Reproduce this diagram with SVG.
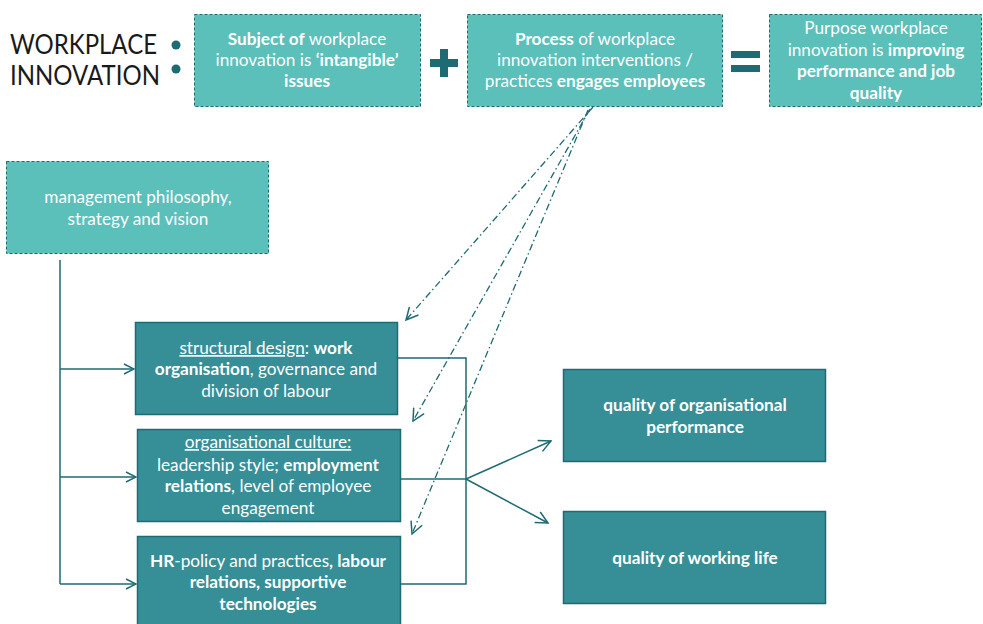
<svg xmlns="http://www.w3.org/2000/svg" width="983" height="624" viewBox="0 0 983 624">
<defs>
<style>
.lt{fill:#5BBFBA;stroke:#1E6B73;stroke-width:1;stroke-dasharray:3 2}
.dk{fill:#368E96;stroke:#1E6B73;stroke-width:1.5}
.t{font-family:Lato,"Liberation Sans",sans-serif;font-size:17.2px;fill:#ffffff;text-anchor:middle}
.b{font-weight:bold}
.c{fill:none;stroke:#1E6B73;stroke-width:1.5}
.dd{fill:none;stroke:#1E6B73;stroke-width:1.3;stroke-dasharray:7 3 1.5 3}
.big{font-family:Lato,"Liberation Sans",sans-serif;font-size:27px;fill:#1a1a1a}
</style>
<marker id="ah" viewBox="0 0 12 12" refX="11" refY="6" markerWidth="12" markerHeight="12" markerUnits="userSpaceOnUse" orient="auto">
<path d="M1,1 L11,6 L1,11" fill="none" stroke="#1E6B73" stroke-width="1.5"/>
</marker>
<marker id="ah2" viewBox="0 0 14 14" refX="13" refY="7" markerWidth="14" markerHeight="14" markerUnits="userSpaceOnUse" orient="auto">
<path d="M1,1 L13,7 L1,13" fill="none" stroke="#1E6B73" stroke-width="1.5"/>
</marker>
</defs>

<g id="title">
<text class="big" x="10" y="54" textLength="147" lengthAdjust="spacingAndGlyphs">WORKPLACE</text>
<text class="big" x="10" y="85" textLength="150" lengthAdjust="spacingAndGlyphs">INNOVATION</text>
<circle cx="176" cy="45" r="4.5" fill="#1E6B73"/>
<circle cx="176" cy="69" r="4.5" fill="#1E6B73"/>
</g>

<g id="subject">
<rect class="lt" x="194.5" y="14.5" width="226" height="92"/>
<text class="t" x="307" y="45"><tspan class="b">Subject of</tspan> workplace</text>
<text class="t" x="307" y="66">innovation is <tspan class="b">‘intangible’</tspan></text>
<text class="t b" x="307" y="87">issues</text>
</g>

<g id="plus">
<rect x="430" y="59" width="28" height="8" fill="#1E6B73"/>
<rect x="440" y="49" width="8" height="28" fill="#1E6B73"/>
</g>

<g id="process">
<rect class="lt" x="467.5" y="14.5" width="255" height="92"/>
<text class="t" x="595" y="45"><tspan class="b">Process</tspan> of workplace</text>
<text class="t" x="595" y="66">innovation interventions /</text>
<text class="t" x="595" y="87">practices <tspan class="b">engages employees</tspan></text>
</g>

<g id="equals">
<rect x="731" y="51" width="29" height="7" fill="#1E6B73"/>
<rect x="731" y="65" width="29" height="7" fill="#1E6B73"/>
</g>

<g id="purpose">
<rect class="lt" x="769.5" y="14.5" width="212" height="92"/>
<text class="t" x="876" y="34">Purpose workplace</text>
<text class="t" x="876" y="56">innovation is <tspan class="b">improving</tspan></text>
<text class="t b" x="876" y="77">performance and job</text>
<text class="t b" x="876" y="99">quality</text>
</g>

<g id="management">
<rect class="lt" x="6.5" y="161.5" width="262" height="92"/>
<text class="t" x="138" y="203">management philosophy,</text>
<text class="t" x="138" y="225">strategy and vision</text>
</g>

<g id="structural">
<rect class="dk" x="135.5" y="322.5" width="262" height="92"/>
<text class="t" x="266" y="354"><tspan text-decoration="underline">structural design</tspan>: <tspan class="b">work</tspan></text>
<text class="t" x="266" y="375"><tspan class="b">organisation</tspan>, governance and</text>
<text class="t" x="266" y="397">division of labour</text>
</g>

<g id="culture">
<rect class="dk" x="137.5" y="429.5" width="263" height="92"/>
<text class="t" x="268" y="448"><tspan text-decoration="underline">organisational culture:</tspan></text>
<text class="t" x="268" y="471">leadership style; <tspan class="b">employment</tspan></text>
<text class="t" x="268" y="492"><tspan class="b">relations</tspan>, level of employee</text>
<text class="t" x="268" y="514">engagement</text>
</g>

<g id="hr">
<rect class="dk" x="137.5" y="536.5" width="263" height="92"/>
<text class="t" x="268" y="567"><tspan class="b">HR</tspan>-policy and practices<tspan class="b">, labour</tspan></text>
<text class="t b" x="268" y="588">relations, supportive</text>
<text class="t b" x="268" y="610">technologies</text>
</g>

<g id="performance">
<rect class="dk" x="563.5" y="369.5" width="262" height="92"/>
<text class="t b" x="695" y="411">quality of organisational</text>
<text class="t b" x="695" y="433">performance</text>
</g>

<g id="workinglife">
<rect class="dk" x="563.5" y="511.5" width="262" height="92"/>
<text class="t b" x="695" y="564">quality of working life</text>
</g>

<g id="connectors">
<path class="c" d="M60,260 V584"/>
<path class="c" d="M60,369 H134" marker-end="url(#ah)"/>
<path class="c" d="M60,477 H136" marker-end="url(#ah)"/>
<path class="c" d="M60,584 H136" marker-end="url(#ah)"/>
<path class="c" d="M398,358 H466 V584 H401"/>
<path class="c" d="M401,479 H466"/>
<path class="c" d="M466,479 L551,441" marker-end="url(#ah2)"/>
<path class="c" d="M466,479 L548,523" marker-end="url(#ah2)"/>
<path class="dd" d="M593,107 L406,320" marker-end="url(#ah2)"/>
<path class="dd" d="M590,109 L413,421" marker-end="url(#ah2)"/>
<path class="dd" d="M588,110 L412,534" marker-end="url(#ah2)"/>
</g>
</svg>
